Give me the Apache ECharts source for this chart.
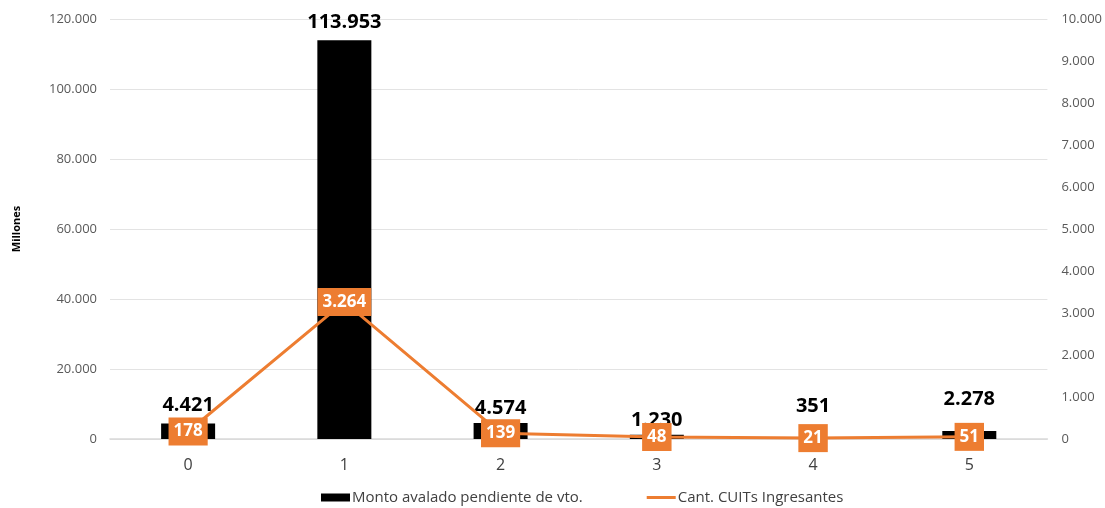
<!DOCTYPE html>
<html><head><meta charset="utf-8">
<script src="https://cdn.jsdelivr.net/npm/echarts@6/dist/echarts.min.js"></script>
<style>html,body{margin:0;padding:0;background:#fff}#c{width:1105px;height:508px}</style>
</head><body><div id="c"></div>
<script>
const categories = ['0','1','2','3','4','5'];
const montoAvalado = [4421, 113953, 4574, 1230, 351, 2278];
const cuitsIngresantes = [178, 3264, 139, 48, 21, 51];
const leftTicks = {min:0, max:120000, interval:20000};
const rightTicks = {min:0, max:10000, interval:1000};
// label gap above each bar (style, as placed in the original)
const barLabelGap = [8, 8, 5, 4, 21, 22];

function fmt(v){ return String(Math.round(v)).replace(/\B(?=(\d{3})+(?!\d))/g,'.'); }
const FONT = '"Open Sans", "Liberation Sans", sans-serif';
const chart = echarts.init(document.getElementById('c'));
chart.setOption({
  animation:false,
  textStyle:{fontFamily:FONT},
  grid:{left:110, right:57, top:19, bottom:69},
  legend:{
    top:485, left:316, itemGap:64, itemWidth:29, itemHeight:8,
    textStyle:{fontSize:15, color:'#404040', fontFamily:FONT, padding:[0,0,0,-3]},
    data:[{name:'Monto avalado pendiente de vto.', icon:'rect'},
          {name:'Cant. CUITs Ingresantes', icon:'path://M0,0 H29 V3 H0 Z'}]
  },
  xAxis:{
    type:'category', data:categories,
    axisLine:{lineStyle:{color:'#d9d9d9', width:1.5}},
    axisTick:{show:false},
    axisLabel:{fontSize:16, color:'#404040', margin:18}
  },
  yAxis:[{
    type:'value', min:leftTicks.min, max:leftTicks.max, interval:leftTicks.interval,
    name:'Millones', nameLocation:'middle', nameGap:88, nameRotate:90,
    nameTextStyle:{fontSize:11, fontWeight:'bold', color:'#000'},
    axisLine:{show:false}, axisTick:{show:false},
    splitLine:{lineStyle:{color:'#e3e3e3', width:1}},
    axisLabel:{fontSize:13, color:'#595959', formatter:fmt, margin:13}
  },{
    type:'value', min:rightTicks.min, max:rightTicks.max, interval:rightTicks.interval,
    axisLine:{show:false}, axisTick:{show:false}, splitLine:{show:false},
    axisLabel:{fontSize:13, color:'#595959', formatter:fmt, margin:14}
  }],
  series:[{
    name:'Monto avalado pendiente de vto.', type:'bar',
    data:montoAvalado.map((v,i)=>({value:v, label:{distance:barLabelGap[i]}})),
    yAxisIndex:0, barWidth:54, itemStyle:{color:'#000'},
    label:{show:true, position:'top', fontSize:20, fontWeight:'bold', color:'#000', formatter:p=>fmt(p.value)}
  },{
    name:'Cant. CUITs Ingresantes', type:'line', data:cuitsIngresantes,
    yAxisIndex:1, symbol:'none', lineStyle:{color:'#ED7D31', width:3}, itemStyle:{color:'#ED7D31'},
    z:5
  },{
    name:'labels', type:'scatter', data:cuitsIngresantes, yAxisIndex:1,
    symbolSize:0, z:6, silent:true, itemStyle:{color:'#ED7D31', opacity:1},
    label:{show:true, position:'inside', fontSize:17, fontWeight:'bold', color:'#fff', lineHeight:23,
      backgroundColor:'#ED7D31', padding:[3,5,2,5], formatter:p=>fmt(p.value)}
  }]
});
</script></body></html>
